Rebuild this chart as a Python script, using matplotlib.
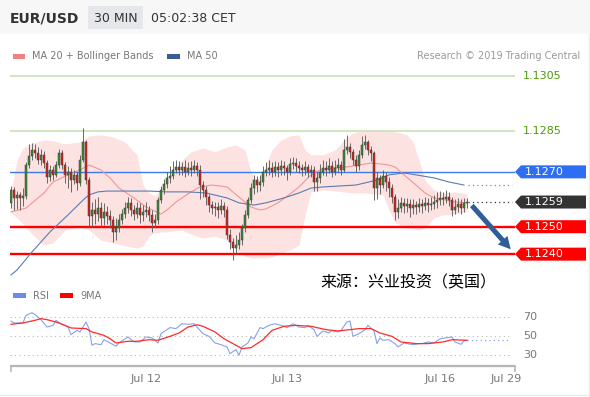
import numpy as np
import matplotlib
matplotlib.use("Agg")
import matplotlib.pyplot as plt
from matplotlib.patches import Polygon, Rectangle

# ---- data ----
first_open = 1.12587
closes = [
    1.12634, 1.12605, 1.12616, 1.12605, 1.12612, 1.12725, 1.12758, 1.12780, 1.12769, 1.12743,
    1.12762, 1.12732, 1.12681, 1.12707, 1.12689, 1.12725, 1.12769, 1.12725, 1.12689, 1.12700,
    1.12670, 1.12689, 1.12659, 1.12743, 1.12809, 1.12670, 1.12539, 1.12561, 1.12546, 1.12568,
    1.12532, 1.12554, 1.12539, 1.12524, 1.12481, 1.12495, 1.12524, 1.12546, 1.12568, 1.12587,
    1.12561, 1.12546, 1.12568, 1.12543, 1.12554, 1.12561, 1.12543, 1.12514, 1.12524, 1.12597,
    1.12634, 1.12656, 1.12678, 1.12685, 1.12707, 1.12718, 1.12707, 1.12718, 1.12700, 1.12714,
    1.12707, 1.12722, 1.12707, 1.12652, 1.12634, 1.12608, 1.12579, 1.12568, 1.12572, 1.12561,
    1.12576, 1.12561, 1.12470, 1.12444, 1.12422, 1.12433, 1.12451, 1.12495, 1.12543, 1.12597,
    1.12641, 1.12670, 1.12652, 1.12663, 1.12700, 1.12707, 1.12714, 1.12700, 1.12718, 1.12707,
    1.12722, 1.12714, 1.12700, 1.12729, 1.12732, 1.12722, 1.12714, 1.12707, 1.12718, 1.12700,
    1.12707, 1.12663, 1.12678, 1.12700, 1.12714, 1.12707, 1.12722, 1.12700, 1.12714, 1.12725,
    1.12707, 1.12780, 1.12791, 1.12773, 1.12743, 1.12722, 1.12762, 1.12798, 1.12809, 1.12780,
    1.12769, 1.12641, 1.12678, 1.12652, 1.12685, 1.12663, 1.12641, 1.12608, 1.12554, 1.12568,
    1.12587, 1.12576, 1.12583, 1.12568, 1.12579, 1.12572, 1.12583, 1.12576, 1.12587, 1.12579,
    1.12583, 1.12590, 1.12597, 1.12605, 1.12601, 1.12608, 1.12597, 1.12561, 1.12572, 1.12583,
    1.12568, 1.12587, 1.12590,
]
highs = [
    1.12650, 1.12645, 1.12630, 1.12628, 1.12640, 1.12735, 1.12800, 1.12805, 1.12800, 1.12790,
    1.12785, 1.12775, 1.12745, 1.12725, 1.12720, 1.12740, 1.12785, 1.12780, 1.12735, 1.12720,
    1.12715, 1.12705, 1.12700, 1.12760, 1.12860, 1.12815, 1.12680, 1.12590, 1.12600, 1.12610,
    1.12590, 1.12585, 1.12575, 1.12560, 1.12540, 1.12530, 1.12545, 1.12565, 1.12590, 1.12610,
    1.12605, 1.12580, 1.12590, 1.12585, 1.12580, 1.12590, 1.12575, 1.12560, 1.12545, 1.12610,
    1.12650, 1.12675, 1.12700, 1.12720, 1.12740, 1.12745, 1.12740, 1.12735, 1.12745, 1.12735,
    1.12740, 1.12745, 1.12735, 1.12725, 1.12665, 1.12650, 1.12620, 1.12595, 1.12590, 1.12590,
    1.12600, 1.12590, 1.12575, 1.12490, 1.12460, 1.12470, 1.12480, 1.12510, 1.12560, 1.12610,
    1.12660, 1.12690, 1.12685, 1.12690, 1.12720, 1.12735, 1.12745, 1.12735, 1.12740, 1.12735,
    1.12745, 1.12740, 1.12725, 1.12750, 1.12755, 1.12750, 1.12740, 1.12730, 1.12740, 1.12730,
    1.12725, 1.12720, 1.12700, 1.12730, 1.12745, 1.12740, 1.12750, 1.12740, 1.12745, 1.12750,
    1.12740, 1.12820, 1.12835, 1.12805, 1.12785, 1.12760, 1.12780, 1.12830, 1.12835, 1.12815,
    1.12795, 1.12775, 1.12700, 1.12690, 1.12705, 1.12700, 1.12680, 1.12655, 1.12620, 1.12600,
    1.12610, 1.12605, 1.12605, 1.12600, 1.12600, 1.12595, 1.12605, 1.12600, 1.12610, 1.12605,
    1.12610, 1.12615, 1.12625, 1.12630, 1.12625, 1.12635, 1.12625, 1.12610, 1.12600, 1.12605,
    1.12600, 1.12605, 1.12605,
]
lows = [
    1.12570, 1.12560, 1.12565, 1.12561, 1.12575, 1.12600, 1.12715, 1.12745, 1.12750, 1.12730,
    1.12725, 1.12715, 1.12660, 1.12665, 1.12670, 1.12680, 1.12715, 1.12710, 1.12660, 1.12640,
    1.12625, 1.12655, 1.12635, 1.12650, 1.12735, 1.12655, 1.12500, 1.12500, 1.12510, 1.12520,
    1.12500, 1.12505, 1.12510, 1.12495, 1.12445, 1.12450, 1.12480, 1.12510, 1.12530, 1.12550,
    1.12540, 1.12525, 1.12530, 1.12515, 1.12520, 1.12535, 1.12520, 1.12480, 1.12495, 1.12510,
    1.12585, 1.12620, 1.12640, 1.12660, 1.12675, 1.12695, 1.12690, 1.12690, 1.12680, 1.12690,
    1.12685, 1.12695, 1.12685, 1.12600, 1.12610, 1.12580, 1.12555, 1.12545, 1.12540, 1.12530,
    1.12545, 1.12535, 1.12455, 1.12420, 1.12378, 1.12400, 1.12420, 1.12435, 1.12480, 1.12530,
    1.12585, 1.12620, 1.12625, 1.12630, 1.12650, 1.12685, 1.12690, 1.12680, 1.12685, 1.12680,
    1.12690, 1.12690, 1.12670, 1.12690, 1.12710, 1.12700, 1.12695, 1.12685, 1.12690, 1.12680,
    1.12680, 1.12630, 1.12630, 1.12660, 1.12690, 1.12685, 1.12695, 1.12680, 1.12690, 1.12700,
    1.12690, 1.12700, 1.12765, 1.12750, 1.12725, 1.12700, 1.12705, 1.12750, 1.12785, 1.12760,
    1.12740, 1.12597, 1.12600, 1.12620, 1.12640, 1.12630, 1.12610, 1.12585, 1.12524, 1.12530,
    1.12555, 1.12550, 1.12555, 1.12535, 1.12545, 1.12545, 1.12555, 1.12550, 1.12560, 1.12555,
    1.12560, 1.12565, 1.12570, 1.12580, 1.12580, 1.12585, 1.12575, 1.12540, 1.12545, 1.12555,
    1.12545, 1.12555, 1.12570,
]

ma20_bar = [0, 5, 11, 14, 19, 23, 26, 30, 33, 36, 41, 45, 50, 52, 55, 60, 63, 67, 72, 76, 80,
            83, 85, 89, 93, 96, 100, 103, 107, 112, 116, 120, 123, 126, 128, 131, 135, 138,
            141, 145, 148, 152]
ma20_val = [1.12554, 1.12568, 1.12623, 1.12663, 1.12689, 1.12707, 1.12725, 1.12707, 1.12678,
            1.12641, 1.12605, 1.12572, 1.12546, 1.12561, 1.12590, 1.12627, 1.12645, 1.12652,
            1.12645, 1.12608, 1.12572, 1.12561, 1.12565, 1.12587, 1.12619, 1.12645, 1.12689,
            1.12707, 1.12714, 1.12718, 1.12725, 1.12732, 1.12729, 1.12725, 1.12718, 1.12689,
            1.12652, 1.12623, 1.12605, 1.12597, 1.12590, 1.12587]

ma50_bar = [0, 2, 7, 13, 19, 24, 26, 29, 32, 41, 46, 52, 59, 65, 72, 76, 81, 85, 91, 96, 100,
            104, 115, 122, 126, 131, 135, 141, 146, 151]
ma50_val = [1.12324, 1.12342, 1.12408, 1.12481, 1.12543, 1.12597, 1.12616, 1.12627, 1.12630,
            1.12630, 1.12630, 1.12627, 1.12627, 1.12623, 1.12605, 1.12587, 1.12579, 1.12587,
            1.12605, 1.12623, 1.12641, 1.12645, 1.12652, 1.12670, 1.12689, 1.12696, 1.12689,
            1.12678, 1.12663, 1.12652]

bb_bar = [0, 2, 4, 7, 11, 14, 18, 23, 26, 30, 34, 38, 42, 44, 46, 48, 50, 52, 54, 57, 60, 64,
          68, 72, 75, 78, 80, 82, 84, 87, 90, 93, 96, 98, 100, 104, 108, 111, 114, 118, 122,
          124, 126, 128, 130, 132, 134, 136, 138, 141, 144, 148, 152]
bb_upper = [1.12627, 1.12743, 1.12787, 1.12805, 1.12816, 1.12813, 1.12802, 1.12809, 1.12831,
            1.12835, 1.12827, 1.12809, 1.12762, 1.12652, 1.12623, 1.12612, 1.12634, 1.12670,
            1.12700, 1.12743, 1.12773, 1.12787, 1.12773, 1.12791, 1.12798, 1.12780, 1.12700,
            1.12670, 1.12700, 1.12780, 1.12816, 1.12831, 1.12835, 1.12780, 1.12762, 1.12762,
            1.12780, 1.12816, 1.12842, 1.12853, 1.12853, 1.12849, 1.12849, 1.12846, 1.12842,
            1.12835, 1.12809, 1.12743, 1.12670, 1.12634, 1.12623, 1.12627, 1.12619]
bb_lower = [1.12550, 1.12532, 1.12510, 1.12473, 1.12433, 1.12441, 1.12488, 1.12499, 1.12488,
            1.12451, 1.12441, 1.12430, 1.12422, 1.12430, 1.12466, 1.12477, 1.12481, 1.12481,
            1.12484, 1.12488, 1.12473, 1.12459, 1.12466, 1.12451, 1.12415, 1.12393, 1.12386,
            1.12386, 1.12386, 1.12389, 1.12404, 1.12415, 1.12433, 1.12543, 1.12627, 1.12634,
            1.12630, 1.12627, 1.12623, 1.12623, 1.12619, 1.12616, 1.12561, 1.12517, 1.12503,
            1.12495, 1.12492, 1.12488, 1.12495, 1.12532, 1.12543, 1.12546, 1.12554]

rsi_bar = [0, 1, 4, 5, 7, 8, 10, 12, 14, 15, 17, 19, 20, 22, 23, 25, 26, 27, 28, 30, 31, 33,
           35, 36, 39, 41, 43, 45, 47, 49, 50, 53, 55, 57, 59, 61, 62, 64, 66, 68, 70, 72, 73,
           75, 76, 77, 79, 80, 81, 83, 84, 86, 88, 91, 92, 94, 96, 98, 99, 101, 102, 104, 106,
           107, 109, 110, 112, 113, 114, 116, 118, 119, 121, 122, 123, 124, 126, 128, 129, 131,
           132, 134, 136, 137, 139, 141, 143, 145, 147, 148, 150, 151, 152]
rsi_val = [66, 64, 64, 72, 75, 73, 67.5, 59.6, 61.4, 66.8, 62.5, 59.6, 51.4, 56, 54.3, 65, 57.9,
           40, 41.8, 40.7, 46, 42.5, 39, 42.5, 49, 43.6, 43.6, 49, 47.9, 42.5, 52.5, 59, 57.9,
           63.2, 62.5, 63.2, 59.6, 52.5, 49.6, 42.5, 40.7, 38.2, 31, 35.4, 29.3, 38.2, 42.5, 49,
           47, 59, 57.9, 61.4, 63.2, 60.4, 59, 63.2, 59.6, 59, 61.4, 56.8, 49.6, 55.4, 53.2, 56,
           54.3, 56, 65, 66, 49.6, 52.5, 56.8, 61.4, 55.4, 41.8, 48, 45.4, 46, 41.8, 38.2, 42.5,
           41.8, 40.7, 41.8, 41.8, 43.6, 42.5, 47, 48, 49, 43.6, 41, 45, 45.4]
rsi_ma_bar = [0, 4, 8, 10, 12, 15, 18, 20, 25, 27, 31, 33, 35, 39, 42, 46, 49, 53, 56, 59, 62,
              64, 68, 71, 75, 77, 80, 84, 87, 91, 95, 100, 105, 109, 113, 116, 120, 123, 127,
              130, 135, 139, 144, 147, 152]
rsi_ma_val = [62.5, 64, 66.8, 68.6, 67.5, 65, 61.4, 58.6, 57.9, 54.3, 50.7, 47.1, 42.5, 44.3,
              44.3, 46, 45.4, 49.6, 53.2, 59.6, 62, 60.4, 54.3, 47.1, 40, 36.4, 37.5, 46, 56,
              60.4, 61.4, 60.4, 56.8, 55.4, 56.8, 57.9, 57.9, 53.2, 49.6, 43.6, 41.8, 41.8,
              43.6, 46, 45.4]

green_levels = [1.1305, 1.1285]
blue_level = 1.1270
last_level = 1.1259
red_levels = [1.1250, 1.1240]
target_price = 1.1241
rsi_levels = [70, 50, 30]
tick_bars = [45, 92, 143, 165]
tick_labels = ["Jul 12", "Jul 13", "Jul 16", "Jul 29"]

W, H = 590, 397
GREEN_TXT = "#4e9a06"
GREY_TXT = "#777777"

fig = plt.figure(figsize=(W / 100, H / 100), dpi=100)
fig.patch.set_facecolor("white")


def box(x0, y0, x1, y1):
    # pixel box, origin top-left
    return [x0 / W, 1 - y1 / H, (x1 - x0) / W, (y1 - y0) / H]


n = len(closes)
idx = np.arange(n)
opens = [first_open] + closes[:-1]
xmin, xmax = -0.33, 168

# ---- price panel ----
ax = fig.add_axes(box(10, 66, 515, 278))
ax.set_xlim(xmin, xmax)
ax.set_ylim(1.12313, 1.13086)
ax.axis("off")

ax.fill_between(bb_bar, bb_lower, bb_upper, color="#fde2e2", lw=0, zorder=1)

for lv in green_levels:
    ax.axhline(lv, color="#cbe5b8", lw=1.3, zorder=2)
ax.axhline(blue_level, color="#3b7bef", lw=1.0, zorder=2)
for lv in red_levels:
    ax.axhline(lv, color="#ff0000", lw=1.7, zorder=2)

ax.plot(ma20_bar, ma20_val, color="#f39494", lw=0.8, zorder=3)
ax.plot(ma50_bar, ma50_val, color="#5a7cb0", lw=0.8, zorder=3)

ax.vlines(idx, lows, highs, color="#5e5e5e", lw=0.65, zorder=4)
o = np.array(opens)
c = np.array(closes)
body_col = np.where(c >= o, "#3c8a36", "#d8231b")
hgt = np.where(np.abs(c - o) < 0.00002, 0.00002, c - o)
ax.bar(idx, hgt, bottom=o, width=0.78, color=body_col, edgecolor="#3a3a3a",
       linewidth=0.35, zorder=5)

# projections to the right of the last bar
ax.plot([n - 0.5, 167], [ma50_val[-1], ma50_val[-1]], ls=(0, (1, 2.5)), color="#7f8fa8",
        lw=0.9, zorder=3)
ax.plot([n - 0.5, 167], [last_level, last_level], ls=(0, (1, 2.5)), color="#333333",
        lw=0.9, zorder=3)
ax.annotate("", xy=(167.2, target_price), xytext=(n, closes[-1] - 0.00005),
            arrowprops=dict(arrowstyle="simple,head_length=1.1,head_width=1.15,tail_width=0.45",
                            color="#2f5f99", mutation_scale=8, lw=0),
            zorder=6, annotation_clip=False)

# ---- RSI panel ----
rx = fig.add_axes(box(10, 300, 515, 366))
rx.set_xlim(xmin, xmax)
rx.set_ylim(17.8, 88.6)
rx.axis("off")
for lv in rsi_levels:
    rx.plot([xmin, xmax - 1], [lv, lv], ls=(0, (1, 3)), color="#bbbbbb", lw=0.8)
rx.plot(rsi_bar, rsi_val, color="#86a2ea", lw=0.8)
rx.plot(rsi_ma_bar, rsi_ma_val, color="#ff2a2a", lw=0.9)
rx.plot([rsi_bar[-1], 166], [rsi_val[-1], rsi_val[-1]], ls=(0, (1, 2.5)), color="#86a2ea",
        lw=0.9)

# ---- decorations in pixel space ----
dx = fig.add_axes([0, 0, 1, 1])
dx.set_xlim(0, W)
dx.set_ylim(H, 0)
dx.axis("off")

dx.add_patch(Rectangle((0, 0), W, 34, color="#f7f7f7", lw=0))
dx.text(10, 18, "EUR/USD", fontsize=10, fontweight="bold", color="#333333", va="center")
dx.add_patch(Rectangle((88, 6), 55, 23, color="#e6e7eb", lw=0))
dx.text(115.5, 18, "30 MIN", fontsize=9, color="#333333", va="center", ha="center")
dx.text(151, 18, "05:02:38 CET", fontsize=9, color="#333333", va="center")

dx.add_patch(Rectangle((12.5, 53.5), 12.5, 5, color="#f28080", lw=0))
dx.text(32.5, 56, "MA 20 + Bollinger Bands", fontsize=7, color=GREY_TXT, va="center")
dx.add_patch(Rectangle((167, 53.5), 12.5, 5, color="#3a5a9a", lw=0))
dx.text(187, 56, "MA 50", fontsize=7, color=GREY_TXT, va="center")
dx.text(580, 56, "Research \u00a9 2019 Trading Central", fontsize=7, color="#9a9a9a",
        va="center", ha="right")

dx.add_patch(Rectangle((12.5, 293), 13, 4.5, color="#6a8ce6", lw=0))
dx.text(32.5, 296, "RSI", fontsize=7, color=GREY_TXT, va="center")
dx.add_patch(Rectangle((60, 293), 13, 4.5, color="#ff0000", lw=0))
dx.text(80, 296, "9MA", fontsize=7, color=GREY_TXT, va="center")


def ypx(axis, v):
    return H - axis.transData.transform((0, v))[1]


def xpx(axis, b):
    return axis.transData.transform((b, 0))[0]


for lv in green_levels:
    dx.text(523, ypx(ax, lv), "%.4f" % lv, fontsize=8, color=GREEN_TXT, va="center")

tags = [(blue_level, "#2d6ef2"), (last_level, "#333333")] + [(lv, "#ff0000") for lv in red_levels]
for lv, col in tags:
    yc = ypx(ax, lv)
    dx.add_patch(Polygon([(515, yc), (521, yc - 6.5), (586, yc - 6.5), (586, yc + 6.5),
                          (521, yc + 6.5)], closed=True, color=col, lw=0))
    dx.text(525, yc, "%.4f" % lv, fontsize=8, color="white", va="center")

for lv in rsi_levels:
    dx.text(523, ypx(rx, lv), str(lv), fontsize=8, color=GREY_TXT, va="center")

# x axis
dx.plot([10, 515], [366, 366], color="#b5b5b5", lw=1.6, solid_capstyle="butt")
dx.plot([10.5, 10.5], [366, 371], color="#b5b5b5", lw=1.2)
dx.plot([514.5, 514.5], [366, 371], color="#b5b5b5", lw=1.2)
for b, lab in zip(tick_bars, tick_labels):
    dx.text(xpx(rx, b), 379, lab, fontsize=8, color=GREY_TXT, va="center", ha="center")

dx.plot([0, W], [394.5, 394.5], color="#ececec", lw=1)
dx.plot([588.5, 588.5], [34, H], color="#ececec", lw=1)

dx.text(320, 283, "来源：兴业投资（英国）", fontsize=11.5, color="black", va="center",
        family=["Noto Sans CJK SC", "DejaVu Sans"])

fig.savefig("out.png", dpi=100)
